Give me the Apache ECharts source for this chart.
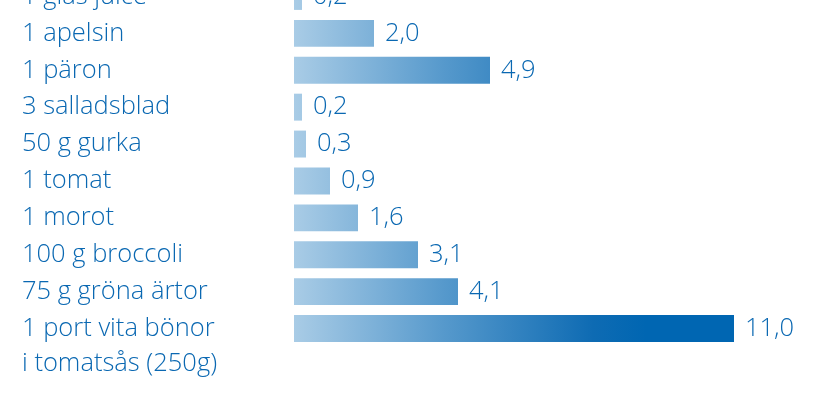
<!DOCTYPE html>
<html>
<head>
<meta charset="utf-8">
<style>html,body{margin:0;padding:0;background:#fff;overflow:hidden;width:840px;height:409px;position:relative}#c{position:absolute;left:0;top:-22px;width:840px;height:431px}</style>
<script src="https://cdn.jsdelivr.net/npm/echarts@6/dist/echarts.min.js"></script>
</head>
<body>
<div id="c"></div>
<script>
const categories = ['1 glas juice', '1 apelsin', '1 päron', '3 salladsblad', '50 g gurka', '1 tomat', '1 morot', '100 g broccoli', '75 g gröna ärtor', '1 port vita bönor\ni tomatsås (250g)'];
const values = [0.2, 2.0, 4.9, 0.2, 0.3, 0.9, 1.6, 3.1, 4.1, 11.0];
const xMax = 11;

const FONT = 'Open Sans';
const TXT = '#0a68b2';
const chart = echarts.init(document.getElementById('c'), null, {renderer: 'canvas'});
const grad = new echarts.graphic.LinearGradient(294, 0, 734, 0, [
  {offset: 0, color: '#a9cce6'},
  {offset: 0.34, color: '#5699cc'},
  {offset: 0.68, color: '#0e6bb3'},
  {offset: 0.8, color: '#0066b2'},
  {offset: 1, color: '#0066b2'}
], true);
chart.setOption({
  animation: false,
  backgroundColor: '#fff',
  grid: {left: 294, right: 106, top: 0, bottom: 62, containLabel: false},
  xAxis: {type: 'value', min: 0, max: xMax, show: false},
  yAxis: {
    type: 'category', inverse: true, data: categories,
    axisLine: {show: false}, axisTick: {show: false}, splitLine: {show: false},
    axisLabel: {
      interval: 0, hideOverlap: false, showMinLabel: true, showMaxLabel: true,
      align: 'left', margin: 272, fontFamily: FONT, fontWeight: 300, fontSize: 25.5, color: TXT, lineHeight: 35,
      formatter: v => v.indexOf('\n') >= 0 ? '\n' + v : v
    }
  },
  series: [{
    type: 'bar', data: values, barCategoryGap: '27%',
    itemStyle: {color: grad},
    label: {
      show: true, position: 'right', distance: 11, fontFamily: FONT, fontWeight: 300, fontSize: 25.5, color: TXT,
      formatter: p => p.value.toFixed(1).replace('.', ',')
    }
  }]
});
</script>
</body>
</html>
